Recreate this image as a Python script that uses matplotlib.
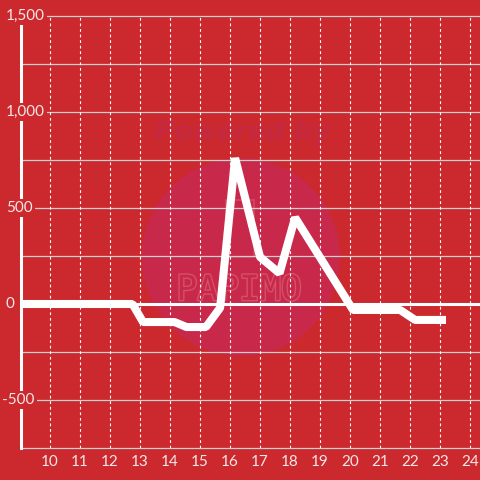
import matplotlib
matplotlib.use('Agg')
import matplotlib.pyplot as plt
from matplotlib.patches import Circle, Rectangle
import matplotlib.patheffects as pe

# ---- data ----
hours = [8.5, 12.75, 13.1, 14.15, 14.55, 15.2, 15.67, 16.17, 17.0, 17.65, 18.17, 20.1, 21.67, 22.17, 23.2]
values = [0, 0, -94, -94, -120, -120, -20, 760, 245, 160, 450, -31, -31, -83, -83]
x_ticks = list(range(10, 25))
y_ticks = [-500, 0, 500, 1000, 1500]
y_labels = ['-500', '0', '500', '1,000', '1,500']
y_minor = [-750, -250, 250, 750, 1250]

BG = '#CC292E'
plt.rcParams['font.family'] = ['Lato', 'DejaVu Sans']

fig = plt.figure(figsize=(4.8, 4.8), dpi=100, facecolor=BG)
ax = fig.add_axes([21/480, 32/480, 459/480, 432/480])
ax.set_facecolor(BG)
ax.set_xlim(9.033, 24.333)
ax.set_ylim(-750, 1500)

for s in ['top', 'right', 'bottom']:
    ax.spines[s].set_visible(False)
ax.spines['left'].set_color('white')
ax.spines['left'].set_linewidth(2.2)
ax.spines['left'].set_zorder(3)

# watermark
ax.add_patch(Circle((241/480, 1-257/480), 99/480, transform=fig.transFigure,
                    facecolor='#C8284A', edgecolor='none', zorder=0.5, clip_on=False))
ax.add_patch(Rectangle((226/480, 1-257/480), 28/480, 57/480, transform=fig.transFigure,
                       facecolor='none', edgecolor='#D24460', lw=1.4, zorder=0.6, clip_on=False))
ax.text(242/480, 1-133/480, 'Powered by', transform=fig.transFigure, ha='center', va='center',
        fontsize=19, fontweight='bold', style='italic', family='DejaVu Sans',
        color='#C4293F', zorder=0.6)
ax.text(239/480, 1-290/480, 'PAPIMO', transform=fig.transFigure, ha='center', va='center',
        fontsize=25, family='DejaVu Sans Mono', color='#C8284A', zorder=0.6,
        path_effects=[pe.withStroke(linewidth=2, foreground='#D6506A')])

# grid
for v in y_ticks + y_minor:
    if v == 0:
        ax.axhline(v, color='white', lw=2.2, zorder=2)
    else:
        ax.axhline(v, color='#d0d0d0', lw=0.9, zorder=1, clip_on=False)
for xv in x_ticks:
    ax.axvline(xv, color='white', lw=0.8, ls=(0, (2.5, 2.5)), zorder=1)

# data line
ax.plot(hours, values, color='white', lw=5.8, solid_joinstyle='bevel', solid_capstyle='butt', zorder=4)

# ticks
ax.set_yticks([])
ax.set_xticks(x_ticks)
ax.set_xticklabels([str(x) for x in x_ticks])
ax.tick_params(axis='x', length=0, pad=5, labelsize=11, labelcolor='#f3e8e8')

for v, lab in zip(y_ticks, y_labels):
    xpx = 2 if lab.startswith('-') else 6
    ax.text((xpx - 21)/459, v, lab, transform=ax.get_yaxis_transform(), ha='left', va='center',
            fontsize=11, color='#f3e8e8', zorder=6, clip_on=False,
            bbox=dict(facecolor=BG, edgecolor='none', pad=1.5))

fig.savefig('out.png', dpi=100, facecolor=BG)
